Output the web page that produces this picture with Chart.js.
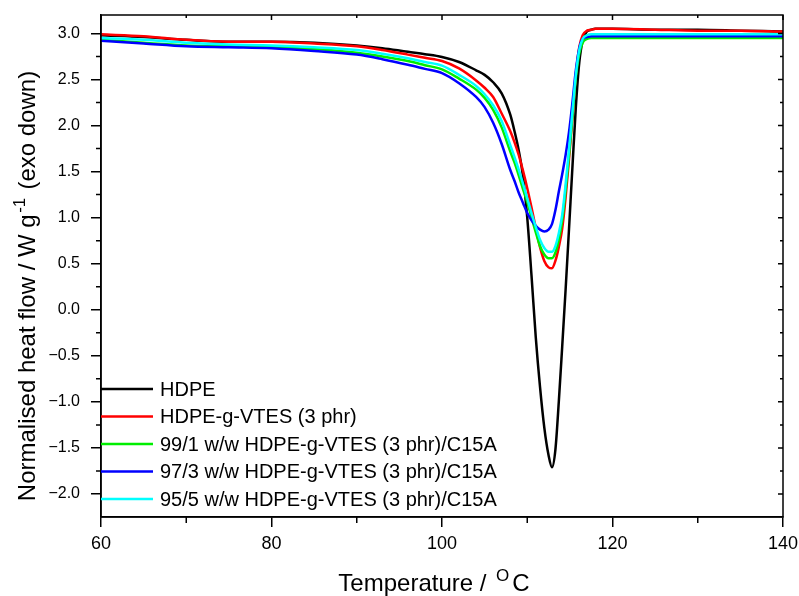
<!DOCTYPE html>
<html>
<head>
<meta charset="utf-8">
<title>DSC cooling scans</title>
<script src="https://cdn.jsdelivr.net/npm/chart.js@4.4.1/dist/chart.umd.min.js"></script>
<style>
  html, body { margin: 0; padding: 0; background: #fff; }
  #wrap { width: 799px; height: 596px; position: relative; }
</style>
</head>
<body>
<div id="wrap"><canvas id="dsc-chart"></canvas></div>
<script>
// Temperature grid (°C) shared by all five cooling scans
const temperature = [60, 65, 70, 75, 80, 85, 90, 93, 96, 98, 100, 102, 104, 105, 106, 107, 108,
  108.5, 109, 109.5, 110, 110.5, 111, 111.5, 112, 112.5, 112.9, 113.3, 113.7, 114.1, 114.5,
  114.9, 115.3, 115.7, 116.1, 116.5, 117, 117.5, 118, 120, 125, 130, 135, 140];

// Normalised heat flow, W/g (exo down)
const hdpe = [2.98, 2.96, 2.93, 2.91, 2.91, 2.90, 2.87, 2.84, 2.80, 2.775, 2.745, 2.69, 2.60, 2.55, 2.47, 2.35, 2.12,
  1.94, 1.73, 1.45, 1.00, 0.37, -0.30, -0.84, -1.28, -1.58, -1.71, -1.52, -1.00, -0.40, 0.22,
  0.88, 1.55, 2.20, 2.68, 2.92, 3.02, 3.04, 3.05, 3.05, 3.04, 3.04, 3.03, 3.02];
const hdpeVtes = [2.99, 2.97, 2.93, 2.91, 2.91, 2.89, 2.86, 2.82, 2.77, 2.735, 2.70, 2.62, 2.49, 2.41, 2.31, 2.13, 1.94,
  1.82, 1.68, 1.51, 1.32, 1.11, 0.89, 0.68, 0.53, 0.46, 0.45, 0.53, 0.68, 0.88, 1.22,
  1.64, 2.08, 2.55, 2.85, 2.98, 3.03, 3.04, 3.05, 3.05, 3.04, 3.03, 3.03, 3.02];
const c15a1 = [2.93, 2.90, 2.87, 2.86, 2.85, 2.83, 2.79, 2.75, 2.70, 2.655, 2.61, 2.51, 2.39, 2.30, 2.17, 1.98, 1.72,
  1.60, 1.46, 1.31, 1.17, 1.00, 0.84, 0.69, 0.60, 0.56, 0.56, 0.62, 0.76, 0.97, 1.30,
  1.68, 2.10, 2.52, 2.78, 2.90, 2.94, 2.95, 2.95, 2.95, 2.95, 2.95, 2.95, 2.95];
const c15a3 = [2.92, 2.89, 2.86, 2.85, 2.84, 2.81, 2.77, 2.72, 2.66, 2.615, 2.57, 2.46, 2.31, 2.20, 2.03, 1.80, 1.52,
  1.40, 1.27, 1.16, 1.05, 0.97, 0.91, 0.87, 0.85, 0.87, 0.93, 1.08, 1.28, 1.47, 1.68,
  1.93, 2.25, 2.60, 2.84, 2.94, 2.96, 2.97, 2.97, 2.97, 2.97, 2.97, 2.97, 2.97];
const c15a5 = [2.95, 2.93, 2.90, 2.88, 2.87, 2.85, 2.82, 2.78, 2.73, 2.69, 2.65, 2.55, 2.43, 2.34, 2.22, 2.05, 1.79,
  1.66, 1.52, 1.37, 1.21, 1.05, 0.90, 0.76, 0.67, 0.63, 0.63, 0.69, 0.83, 1.03, 1.36,
  1.74, 2.15, 2.55, 2.82, 2.94, 2.98, 2.99, 2.99, 2.99, 2.99, 2.99, 2.99, 2.99];

const seriesLabels = [
  "HDPE",
  "HDPE-g-VTES (3 phr)",
  "99/1 w/w HDPE-g-VTES (3 phr)/C15A",
  "97/3 w/w HDPE-g-VTES (3 phr)/C15A",
  "95/5 w/w HDPE-g-VTES (3 phr)/C15A",
];
const seriesValues = [hdpe, hdpeVtes, c15a1, c15a3, c15a5];
const seriesColors = ["#000000", "#ff0000", "#00ee00", "#0000ff", "#00ffff"];

const xMinorTicks = [70, 90, 110, 130];
const yStep = 0.5;

const FONT = "Arial, 'Liberation Sans', sans-serif";

// draws a run of text pieces, some raised as superscripts, centred on the origin
function drawRichText(ctx, parts, size) {
  const supSize = Math.round(size * 0.72);
  let total = 0;
  parts.forEach((p) => {
    ctx.font = (p.sup ? supSize : size) + "px " + FONT;
    p.w = ctx.measureText(p.text).width + (p.gap || 0);
    total += p.w;
  });
  let x = -total / 2;
  parts.forEach((p) => {
    ctx.font = (p.sup ? supSize : size) + "px " + FONT;
    ctx.fillText(p.text, x + (p.gap || 0) / 2, p.sup ? -size * 0.42 : 0);
    x += p.w;
  });
}

const framePlugin = {
  id: "frame",
  afterDraw(chart) {
    const ctx = chart.ctx;
    const { left, right, top, bottom } = chart.chartArea;
    const xs = chart.scales.x;
    const ys = chart.scales.y;

    ctx.save();
    ctx.strokeStyle = "#000";
    ctx.lineWidth = 1.5;
    ctx.strokeRect(left, top, right - left, bottom - top);

    ctx.beginPath();
    // minor ticks on the bottom axis, plus mirrored ticks on top
    xMinorTicks.forEach((v) => {
      const px = xs.getPixelForValue(v);
      ctx.moveTo(px, bottom);
      ctx.lineTo(px, bottom + 6);
      ctx.moveTo(px, top);
      ctx.lineTo(px, top + 3);
    });
    xs.ticks.forEach((t) => {
      const px = xs.getPixelForValue(t.value);
      ctx.moveTo(px, top);
      ctx.lineTo(px, top + 5);
    });
    // minor ticks on the left axis, plus mirrored ticks on the right
    ys.ticks.forEach((t) => {
      const py = ys.getPixelForValue(t.value);
      ctx.moveTo(right, py);
      ctx.lineTo(right - 5, py);
      const mid = t.value + yStep / 2;
      if (mid < ys.max) {
        const pm = ys.getPixelForValue(mid);
        ctx.moveTo(left, pm);
        ctx.lineTo(left - 5, pm);
        ctx.moveTo(right, pm);
        ctx.lineTo(right - 3, pm);
      }
    });
    const below = ys.ticks[0].value - yStep / 2;
    if (below > ys.min) {
      const pb = ys.getPixelForValue(below);
      ctx.moveTo(left, pb);
      ctx.lineTo(left - 5, pb);
      ctx.moveTo(right, pb);
      ctx.lineTo(right - 3, pb);
    }
    ctx.stroke();

    // legend in the lower-left corner of the plot
    ctx.textAlign = "left";
    ctx.textBaseline = "middle";
    ctx.font = "20px " + FONT;
    chart.data.datasets.forEach((ds, i) => {
      const y = 389 + i * 27.5;
      ctx.strokeStyle = ds.borderColor;
      ctx.lineWidth = 2.5;
      ctx.beginPath();
      ctx.moveTo(left, y);
      ctx.lineTo(left + 52, y);
      ctx.stroke();
      ctx.fillStyle = "#000";
      ctx.fillText(ds.label, left + 59, y + 1);
    });

    // axis titles
    ctx.fillStyle = "#000";
    ctx.textAlign = "left";
    ctx.textBaseline = "alphabetic";
    ctx.save();
    ctx.translate(434, 591);
    drawRichText(ctx, [{ text: "Temperature / " }, { text: "O", sup: true, gap: 6 }, { text: "C" }], 24);
    ctx.restore();

    ctx.save();
    ctx.translate(35, 286);
    ctx.rotate(-Math.PI / 2);
    drawRichText(ctx, [
      { text: "Normalised heat flow / W g" },
      { text: "-1", sup: true, gap: 3 },
      { text: " (exo down)" },
    ], 24);
    ctx.restore();

    ctx.restore();
  },
};

const datasets = seriesValues.map((vals, i) => ({
  label: seriesLabels[i],
  data: temperature.map((t, j) => ({ x: t, y: vals[j] })),
  borderColor: seriesColors[i],
  borderWidth: 2.5,
  pointRadius: 0,
  cubicInterpolationMode: "monotone",
  fill: false,
  order: seriesValues.length - i,
}));

new Chart(document.getElementById("dsc-chart"), {
  type: "line",
  data: { datasets },
  options: {
    responsive: true,
    maintainAspectRatio: false,
    animation: false,
    events: [],
    layout: { padding: { top: 15, right: 16, left: 0, bottom: 0 } },
    plugins: {
      legend: { display: false },
      tooltip: { enabled: false },
    },
    scales: {
      x: {
        type: "linear",
        min: 60,
        max: 140,
        afterFit: (scale) => {
          scale.height = 79;
          scale.paddingLeft = 0;
          scale.paddingRight = 0;
        },
        grid: { display: true, drawOnChartArea: false, drawTicks: true, tickLength: 10, color: "#000", lineWidth: 1.5 },
        border: { display: true, color: "#000", width: 1.5 },
        ticks: { stepSize: 20, color: "#000", padding: 6, font: { family: FONT, size: 18 }, maxRotation: 0 },
      },
      y: {
        type: "linear",
        min: -2.25,
        max: 3.2,
        afterFit: (scale) => {
          scale.width = 101;
          scale.paddingTop = 0;
          scale.paddingBottom = 0;
        },
        grid: { display: true, drawOnChartArea: false, drawTicks: true, tickLength: 10, color: "#000", lineWidth: 1.5 },
        border: { display: true, color: "#000", width: 1.5 },
        ticks: {
          stepSize: yStep,
          includeBounds: false,
          color: "#000",
          padding: 11,
          font: { family: FONT, size: 16 },
          callback: (v) => v.toFixed(1).replace("-", "\u2212"),
        },
      },
    },
  },
  plugins: [framePlugin],
});
</script>
</body>
</html>
